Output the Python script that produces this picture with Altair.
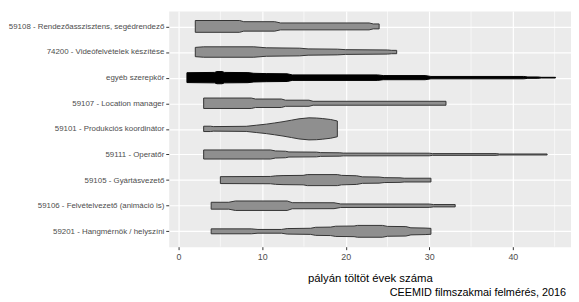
import altair as alt
import pandas as pd

categories = [
    "59108 - Rendezőasszisztens, segédrendező",
    "74200 - Videófelvételek készítése",
    "egyéb szerepkör",
    "59107 - Location manager",
    "59101 - Produkciós koordinátor",
    "59111 - Operatőr",
    "59105 - Gyártásvezető",
    "59106 - Felvételvezető (animáció is)",
    "59201 - Hangmérnök / helyszíni",
]

# years on track (x) and violin half-widths
years_59108 = [2.0, 7.3, 7.8, 11.5, 12.2, 22.8, 23.3, 24.0]
width_59108 = [6.0, 6.0, 4.8, 4.8, 3.5, 3.5, 2.5, 2.5]

years_74200 = [2.0, 3.0, 9.0, 10.5, 14.5, 15.5, 19.0, 20.0, 25.0, 25.5, 26.1]
width_74200 = [4.7, 5.3, 5.3, 4.3, 3.9, 3.2, 2.9, 2.4, 2.1, 1.7, 1.7]

years_egyeb = [1.0, 4.3, 4.6, 5.2, 5.5, 8.3, 9.0, 10.5, 13.0, 13.6, 23.8, 24.5,
               29.5, 30.2, 41.3, 41.8, 43.0, 43.4, 45.1]
width_egyeb = [5.0, 5.3, 6.2, 6.2, 5.3, 5.1, 4.4, 4.1, 3.9, 2.8, 2.8, 2.1,
               2.1, 1.2, 1.2, 0.7, 0.7, 0.35, 0.35]

years_59107 = [3.0, 8.7, 9.2, 12.3, 12.8, 15.6, 16.1, 32.0]
width_59107 = [5.3, 5.3, 4.3, 4.3, 3.1, 3.1, 2.0, 2.0]

years_59101 = [3.0, 3.8, 4.2, 8.1, 9.3, 10.5, 11.5, 12.5, 13.5, 14.4, 15.6, 16.5, 17.2, 18.2, 19.0]
width_59101 = [2.7, 2.7, 2.3, 2.6, 3.7, 4.8, 6.0, 7.3, 8.8, 10.2, 11.2, 11.0, 10.5, 9.5, 8.0]

years_59111 = [3.0, 11.0, 11.6, 12.8, 13.2, 16.5, 17.0, 19.3, 19.7, 30.0, 30.4, 38.0, 38.4, 44.1]
width_59111 = [4.6, 4.6, 3.6, 3.3, 2.6, 2.4, 1.9, 1.7, 1.4, 1.3, 0.9, 0.9, 0.5, 0.5]

years_59105 = [5.0, 11.0, 11.6, 12.5, 14.9, 15.4, 19.0, 19.5, 21.3, 22.0, 24.0, 24.6, 26.5, 27.0, 30.2]
width_59105 = [3.5, 3.7, 4.3, 4.6, 4.8, 5.6, 5.6, 4.8, 4.4, 3.3, 3.1, 2.5, 2.3, 1.9, 1.9]

years_59106 = [3.9, 6.0, 6.8, 13.0, 13.6, 18.6, 19.4, 30.0, 30.5, 33.1]
width_59106 = [3.5, 3.5, 4.8, 4.8, 3.1, 3.0, 1.8, 1.7, 1.2, 1.2]

years_59201 = [3.9, 8.7, 9.5, 12.3, 13.0, 15.8, 16.4, 18.2, 18.8, 21.0, 21.4, 24.4,
               25.0, 27.2, 27.8, 29.5, 30.2]
width_59201 = [2.5, 2.5, 1.9, 1.9, 2.8, 3.1, 4.1, 4.3, 5.2, 5.4, 6.0, 6.0,
               5.0, 4.8, 3.6, 3.3, 3.0]

years_all = [years_59108, years_74200, years_egyeb, years_59107, years_59101,
             years_59111, years_59105, years_59106, years_59201]
widths_all = [width_59108, width_74200, width_egyeb, width_59107, width_59101,
              width_59111, width_59105, width_59106, width_59201]

x_major = [0, 10, 20, 30, 40]
x_minor = [5, 15, 25, 35, 45]

rows = []
for i, (cat, xs, ws) in enumerate(zip(categories, years_all, widths_all)):
    for x, w in zip(xs, ws):
        rows.append({"cat": cat, "idx": i, "years": x, "hw": w})
df = pd.DataFrame(rows)

x_title = "pályán töltöt évek száma"
x_scale = alt.Scale(domain=[-1.18, 46.96], nice=False, zero=False)
y_scale = alt.Scale(domain=[-0.6, 8.6], reverse=True, nice=False, zero=False)

label_expr = "[" + ",".join("'%s'" % c for c in categories) + "][datum.value]"

minor = alt.Chart(pd.DataFrame({"v": x_minor})).mark_rule(
    color="white", strokeWidth=0.6
).encode(x=alt.X("v:Q", scale=x_scale, title=x_title))

is_other = "datum.cat == 'egyéb szerepkör'"

violins = alt.Chart(df).transform_calculate(
    lo="datum.idx - datum.hw / 26",
    hi="datum.idx + datum.hw / 26",
).mark_area(orient="vertical", strokeWidth=1, interpolate="linear").encode(
    x=alt.X(
        "years:Q",
        scale=x_scale,
        title=x_title,
        axis=alt.Axis(
            values=x_major,
            grid=True,
            gridColor="white",
            gridWidth=1.2,
            domain=False,
            tickColor="#333333",
            tickSize=3,
            tickWidth=1,
            labelFont="Liberation Sans",
            labelFontSize=9,
            labelColor="#4D4D4D",
            labelPadding=3,
            titleFont="Liberation Sans",
            titleFontSize=11.5,
            titleFontWeight="normal",
            titleColor="black",
            titlePadding=11,
        ),
    ),
    y=alt.Y(
        "lo:Q",
        scale=y_scale,
        axis=alt.Axis(
            values=list(range(len(categories))),
            labelExpr=label_expr,
            title=None,
            grid=True,
            gridColor="white",
            gridWidth=1.2,
            domain=False,
            tickColor="#333333",
            tickSize=3,
            tickWidth=1,
            labelFont="Liberation Sans",
            labelFontSize=8,
            labelColor="#4D4D4D",
            labelPadding=2,
            labelOverlap=False,
        ),
    ),
    y2="hi:Q",
    detail="cat:N",
    fill=alt.condition(is_other, alt.value("#000000"), alt.value("#8F8F8F")),
    stroke=alt.condition(is_other, alt.value("#000000"), alt.value("#333333")),
)

chart = alt.layer(minor, violins).properties(
    width=408,
    height=239,
    padding={"left": 163, "top": 1, "right": 0, "bottom": 54},
    autosize=alt.AutoSizeParams(type="none"),
    title=alt.TitleParams(
        text="CEEMID filmszakmai felmérés, 2016",
        orient="bottom",
        anchor="end",
        font="Liberation Sans",
        fontSize=11,
        fontWeight="normal",
        color="black",
        offset=3,
        dx=-5,
    ),
).configure_view(fill="#EBEBEB", stroke="transparent")

chart.save("out.html", embed_options={"renderer": "svg", "actions": False})
